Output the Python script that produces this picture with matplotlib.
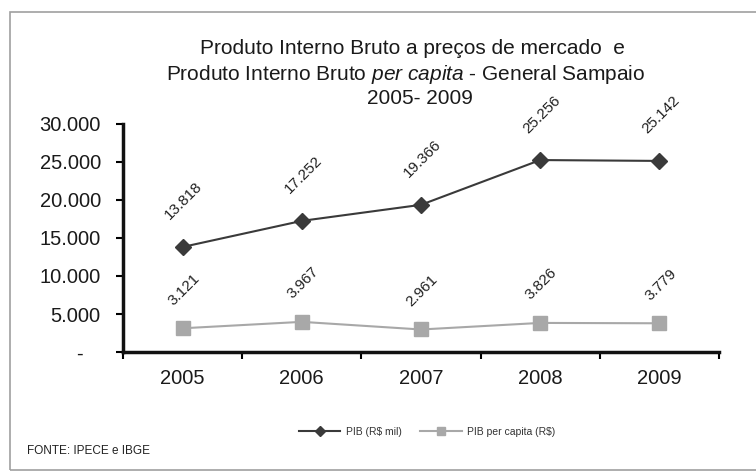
import matplotlib
matplotlib.use("Agg")
import matplotlib.pyplot as plt
from matplotlib.patches import Rectangle

years = ["2005", "2006", "2007", "2008", "2009"]
pib = [13818, 17252, 19366, 25256, 25142]
pib_pc = [3121, 3967, 2961, 3826, 3779]
yticks = [0, 5000, 10000, 15000, 20000, 25000, 30000]
series_names = ["PIB (R$ mil)", "PIB per capita (R$)"]

plt.rcParams['font.family'] = ['Liberation Sans', 'DejaVu Sans']
plt.rcParams['mathtext.fontset'] = 'custom'
plt.rcParams['mathtext.rm'] = 'Liberation Sans'
plt.rcParams['mathtext.it'] = 'Liberation Sans:italic'

W, H = 756, 474
fig = plt.figure(figsize=(W / 100, H / 100), dpi=100)
ax = fig.add_axes([123 / W, (H - 352) / H, (719 - 123) / W, (352 - 124) / H])

def fmt(v):
    return f"{v:,}".replace(",", ".")

x = list(range(len(years)))
dark = "#3a3a3a"
light = "#a8a8a8"
ax.plot(x, pib, color=dark, lw=1.5, marker="D", ms=8.5, mfc=dark, mec=dark,
        label=series_names[0], zorder=3)
ax.plot(x, pib_pc, color=light, lw=1.5, marker="s", ms=9.5, mfc=light, mec=light,
        label=series_names[1], zorder=3)

for i, v in enumerate(pib):
    ax.annotate(fmt(v), (i, v), xytext=(1, 33), textcoords="offset points",
                rotation=45, ha="center", va="center", rotation_mode="anchor",
                fontsize=11, color="#222222")
for i, v in enumerate(pib_pc):
    ax.annotate(fmt(v), (i, v), xytext=(1, 28), textcoords="offset points",
                rotation=45, ha="center", va="center", rotation_mode="anchor",
                fontsize=11, color="#222222")

ax.set_xlim(-0.5, len(years) - 0.5)
ax.set_ylim(0, 30000)
ax.set_xticks(x)
ax.set_xticklabels(years, fontsize=14.5, color="#1a1a1a")
ax.set_xticks([i - 0.5 for i in range(len(years) + 1)], minor=True)
ax.tick_params(axis="x", which="major", length=0, pad=12)
ax.tick_params(axis="x", which="minor", length=5, width=1.5, direction="out")
ax.set_yticks(yticks)
ax.set_yticklabels([fmt(v) if v else "-   " for v in yticks], fontsize=14.5, color="#1a1a1a")
ax.tick_params(axis="y", length=5, width=1.5, direction="out", pad=11)

for s in ["top", "right"]:
    ax.spines[s].set_visible(False)
for s in ["left", "bottom"]:
    ax.spines[s].set_linewidth(2.5)
    ax.spines[s].set_color("#111111")

fig.text(412 / W, 1 - 49 / H, "Produto Interno Bruto a preços de mercado  e",
         ha="center", va="center", fontsize=15, color="#1a1a1a")
fig.text(406 / W, 1 - 74 / H, r"Produto Interno Bruto $\mathit{per\ capita}$ - General Sampaio",
         ha="center", va="center", fontsize=15, color="#1a1a1a")
fig.text(420 / W, 1 - 99 / H, "2005- 2009",
         ha="center", va="center", fontsize=15, color="#1a1a1a")

leg = fig.legend(loc="center", bbox_to_anchor=(427 / W, 1 - 432 / H), ncol=2,
                 frameon=False, fontsize=7.5, handlelength=4, markerscale=0.55,
                 columnspacing=1.8, handletextpad=0.5)
for t in leg.get_texts():
    t.set_color("#333333")

fig.text(27 / W, 1 - 451 / H, "FONTE: IPECE e IBGE", ha="left", va="center",
         fontsize=8.5, color="#222222")

fig.patches.append(Rectangle((10 / W, 4 / H), (W + 10) / W, (470 - 12) / H,
                             transform=fig.transFigure, fill=False,
                             edgecolor="#a0a0a0", lw=1.2, clip_on=False))

fig.savefig("out.png", dpi=100, facecolor="white")
